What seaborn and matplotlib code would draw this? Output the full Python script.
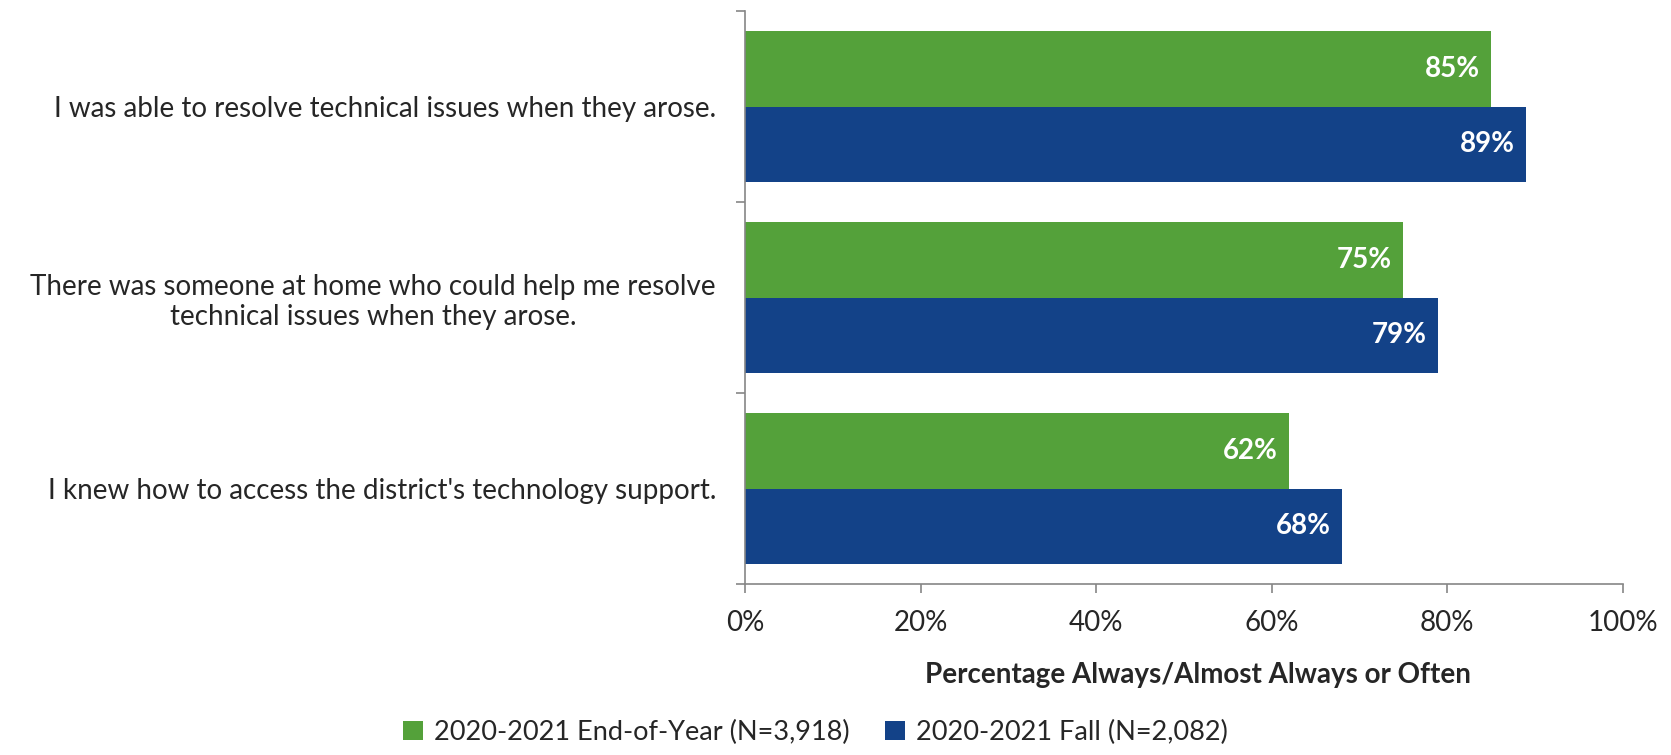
import pandas as pd
import numpy as np
import matplotlib.pyplot as plt
import seaborn as sns

sns.set_style('white')
plt.rcParams['font.family'] = ['Lato', 'DejaVu Sans']

# 数据
QUESTIONS = ['I was able to resolve technical issues when they arose.',
             'There was someone at home who could help me resolve\ntechnical issues when they arose.',
             "I knew how to access the district's technology support."]
SERIES = ['2020-2021 End-of-Year (N=3,918)', '2020-2021 Fall (N=2,082)']
END_OF_YEAR = [85, 75, 62]
FALL = [89, 79, 68]
XTICKS = [0, 20, 40, 60, 80, 100]

COLORS = ['#54A13A', '#134288']
GREY = '#868686'
FS = 20

df = pd.DataFrame({
    'question': QUESTIONS * 2,
    'series': [SERIES[0]] * 3 + [SERIES[1]] * 3,
    'value': END_OF_YEAR + FALL,
})

fig = plt.figure(figsize=(16.71, 7.55), dpi=100)
ax = fig.add_axes([0.446, 0.2265, 0.525, 0.7585])

sns.barplot(data=df, y='question', x='value', hue='series', hue_order=SERIES,
            order=QUESTIONS, palette=COLORS, orient='h', width=0.79,
            saturation=1, linewidth=0, ax=ax, legend=True)

# 数值标签（白色粗体，位于条形末端内侧）
for cont in ax.containers:
    for p in cont:
        ax.annotate(f'{p.get_width():.0f}%',
                    xy=(p.get_width(), p.get_y() + p.get_height() / 2),
                    xytext=(-8, 0), textcoords='offset points',
                    ha='right', va='center', color='white',
                    fontsize=FS, fontweight='bold')

ax.set_xlim(0, 100)
ax.set_ylim(2.5, -0.5)
ax.set_xticks(XTICKS)
ax.set_xticklabels([f'{t}%' for t in XTICKS], fontsize=FS)

# y轴：刻度线在分组边界，标签在组中心
ax.set_yticks([-0.5, 0.5, 1.5, 2.5])
ax.set_yticklabels([])
ax.set_yticks(range(len(QUESTIONS)), minor=True)
ax.set_yticklabels(QUESTIONS, minor=True, fontsize=FS, multialignment='center')
ax.tick_params(axis='y', which='minor', length=0, pad=21)
ax.tick_params(axis='y', which='major', length=6.5, color=GREY, width=1.2, direction='out', left=True)
ax.tick_params(axis='x', length=6.5, color=GREY, width=1.2, direction='out', bottom=True, pad=12)

for s in ['top', 'right']:
    ax.spines[s].set_visible(False)
for s in ['left', 'bottom']:
    ax.spines[s].set_color(GREY)
    ax.spines[s].set_linewidth(1.2)

ax.set_ylabel('')
ax.set_xlabel('Percentage Always/Almost Always or Often', fontsize=FS, fontweight='bold')
ax.xaxis.set_label_coords(0.516, -0.137)

handles, labels = ax.get_legend_handles_labels()
ax.get_legend().remove()
fig.legend(handles, labels, loc='center', bbox_to_anchor=(0.488, 0.03), ncol=2,
           frameon=False, fontsize=19.5, handlelength=0.75, handleheight=0.75,
           handletextpad=0.4, columnspacing=1.3)

fig.savefig('out.png', dpi=100)
plt.close(fig)
